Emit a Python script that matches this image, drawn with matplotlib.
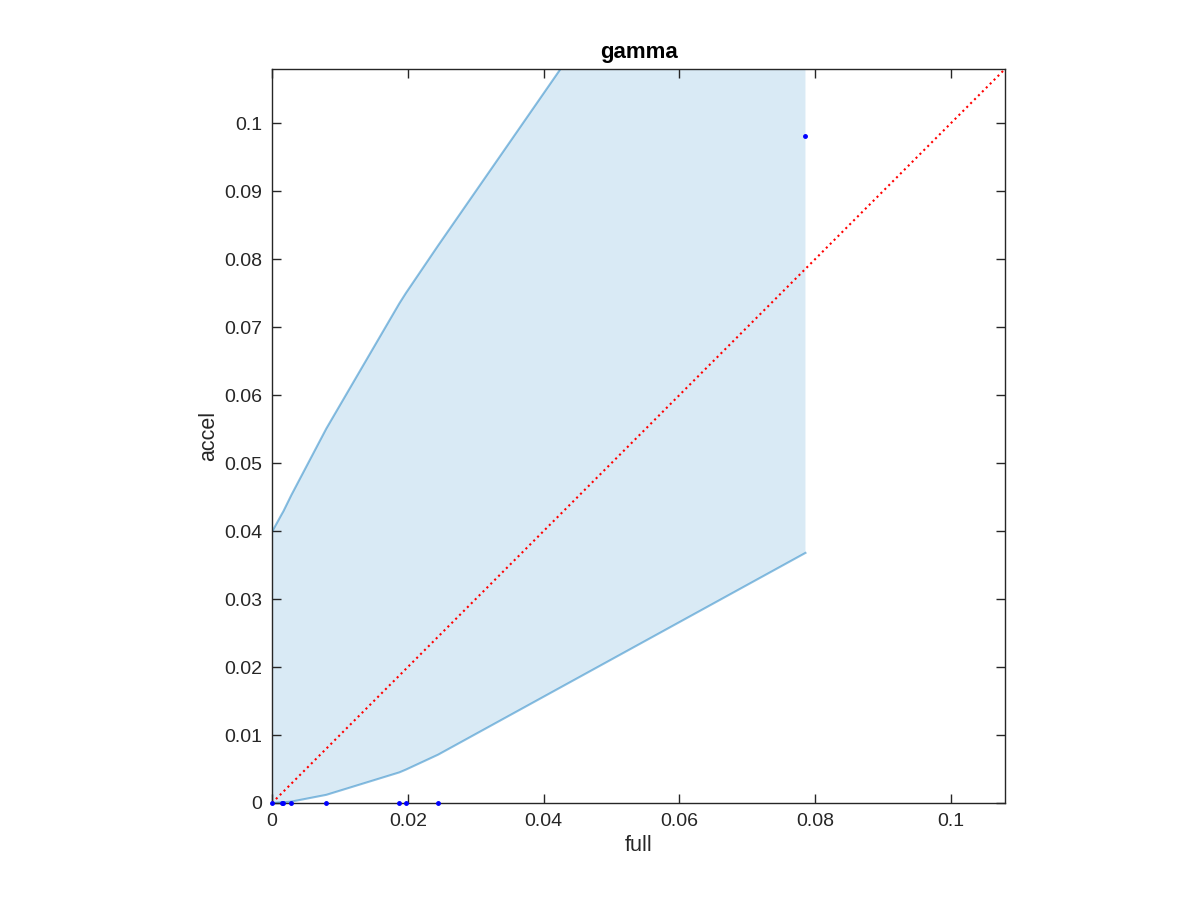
import matplotlib
matplotlib.use('Agg')
import matplotlib.pyplot as plt
import numpy as np

plt.rcParams['font.family'] = ['Liberation Sans', 'DejaVu Sans']

# sorted x positions (full) and bounds of the shaded band
full = [0.0, 0.00143, 0.00166, 0.00284, 0.0080, 0.01875, 0.0197, 0.02445, 0.0786]
upper = [0.0399, 0.0425, 0.0429, 0.0453, 0.0551, 0.0735, 0.0750, 0.0820, 0.1600]
lower = [0.0, 0.0001, 0.0001, 0.0002, 0.0012, 0.0045, 0.0049, 0.0071, 0.0368]

# measured points
pts_full = [0.0, 0.00143, 0.00166, 0.00284, 0.0080, 0.01875, 0.0197, 0.02445, 0.0786]
pts_accel = [0.0, 0.0, 0.0, 0.0, 0.0, 0.0, 0.0, 0.0, 0.0981]

lim = 0.108
blue = '#0072BD'
dark = '#262626'

fig = plt.figure(figsize=(12, 9), dpi=100)
ax = fig.add_axes([0.2267, 0.1078, 0.6108, 0.8155])

ax.fill_between(full, lower, upper, color=blue, alpha=0.15, linewidth=0, zorder=1)
ax.plot(full, upper, color=blue, alpha=0.45, linewidth=1.5, zorder=2)
ax.plot(full, lower, color=blue, alpha=0.45, linewidth=1.5, zorder=2)
ax.plot([0, lim], [0, lim], color='red', linestyle=':', linewidth=1.5, zorder=3)
ax.plot(pts_full, pts_accel, '.', color='blue', markersize=5, zorder=4, clip_on=False)

ax.set_xlim(0, lim)
ax.set_ylim(0, lim)
ax.set_xticks(np.arange(0, 0.101, 0.02))
ax.set_xticklabels(['0', '0.02', '0.04', '0.06', '0.08', '0.1'])
ax.set_yticks(np.arange(0, 0.101, 0.01))
ax.set_yticklabels(['0', '0.01', '0.02', '0.03', '0.04', '0.05', '0.06', '0.07', '0.08', '0.09', '0.1'])
ax.tick_params(direction='in', top=True, right=True, length=6.5, width=1,
               labelsize=14, colors=dark, pad=7)
for s in ax.spines.values():
    s.set_color(dark)
    s.set_linewidth(1)

ax.set_xlabel('full', fontsize=15.5, color=dark, labelpad=4)
ax.set_ylabel('accel', fontsize=15.5, color=dark, labelpad=4)
ax.set_title('gamma', fontsize=16, fontweight='bold', pad=8)

fig.savefig('out.png', dpi=100)
